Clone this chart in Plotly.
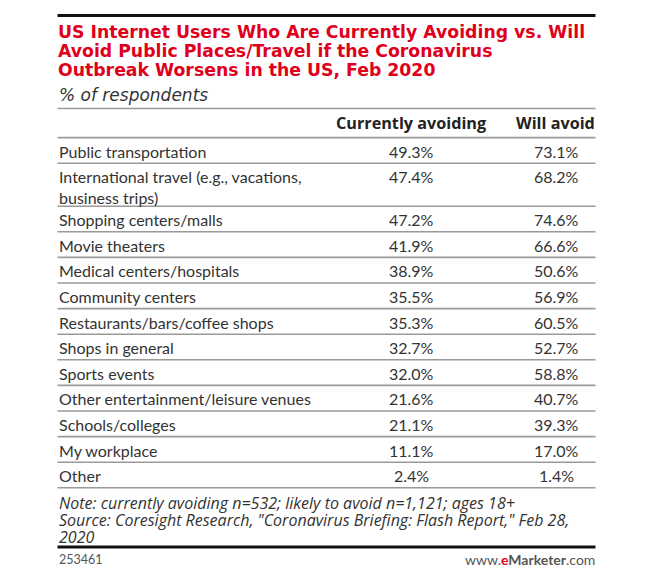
import plotly.graph_objects as go

# ---------------- data ----------------
title_lines = [
    "US Internet Users Who Are Currently Avoiding vs. Will",
    "Avoid Public Places/Travel if the Coronavirus",
    "Outbreak Worsens in the US, Feb 2020",
]
subtitle = "% of respondents"
column_headers = ["Currently avoiding", "Will avoid"]
categories = [
    "Public transportation",
    "International travel (e.g., vacations,<br>business trips)",
    "Shopping centers/malls",
    "Movie theaters",
    "Medical centers/hospitals",
    "Community centers",
    "Restaurants/bars/coffee shops",
    "Shops in general",
    "Sports events",
    "Other entertainment/leisure venues",
    "Schools/colleges",
    "My workplace",
    "Other",
]
currently_avoiding = [49.3, 47.4, 47.2, 41.9, 38.9, 35.5, 35.3, 32.7, 32.0, 21.6, 21.1, 11.1, 2.4]
will_avoid = [73.1, 68.2, 74.6, 66.6, 50.6, 56.9, 60.5, 52.7, 58.8, 40.7, 39.3, 17.0, 1.4]
note_lines = [
    "Note: currently avoiding n=532; likely to avoid n=1,121; ages 18+",
    "Source: Coresight Research, \"Coronavirus Briefing: Flash Report,\" Feb 28,",
    "2020",
]
chart_id = "253461"

# ---------------- layout constants ----------------
W, H = 652, 580
OFF = 8  # page body margin of the html page
LEFT, RIGHT = 57.5, 595.5
COL1_X, COL2_X = 411, 556
RED = "#e0001b"
TXT = "#333333"
BODY_FONT = "Lato"
HEAD_FONT = "Open Sans"
TITLE_FONT = "DejaVu Sans"
ROW_H = 25.6
EXTRA_LINE_H = 17.4
TABLE_TOP = 137.6
HEADER_TOP = 108.5

fig = go.Figure()
annotations = []
shapes = []


def ann(x, y, text, size, color=TXT, family=BODY_FONT, xanchor="left", yanchor="middle", align="left"):
    annotations.append(dict(
        x=x, y=y, xref="x", yref="y", text=text, showarrow=False,
        xanchor=xanchor, yanchor=yanchor, align=align,
        font=dict(size=size, color=color, family=family), borderpad=0,
    ))


def hline(y, width, color, x0=LEFT, x1=RIGHT):
    shapes.append(dict(type="line", xref="x", yref="y", x0=x0, x1=x1, y0=y, y1=y,
                       line=dict(color=color, width=width)))


# top rule
hline(15.5, 3, "#111111")
# title
for i, t in enumerate(title_lines):
    ann(LEFT - 0.5, 32 + i * 19, "<b>" + t + "</b>", 17.3, color=RED, family=TITLE_FONT)
ann(LEFT, 95, "<i>" + subtitle + "</i>", 17, color=TXT, family=TITLE_FONT)
hline(HEADER_TOP, 1.6, "#9a9a9a")

# header
ann(COL1_X, 123, "<b>" + column_headers[0] + "</b>", 16.2, color="#222222", family=HEAD_FONT, xanchor="center")
ann(RIGHT, 123, "<b>" + column_headers[1] + "</b>", 16.2, color="#222222", family=HEAD_FONT, xanchor="right")
hline(TABLE_TOP, 1.6, "#9a9a9a")

# rows
y = TABLE_TOP
for cat, c, w in zip(categories, currently_avoiding, will_avoid):
    n_lines = cat.count("<br>") + 1
    h = ROW_H + (n_lines - 1) * EXTRA_LINE_H
    first_line_y = y + 13.5
    if n_lines == 1:
        ann(LEFT, first_line_y, cat, 16)
    else:
        ann(LEFT, y + 3, cat, 16, yanchor="top")
    ann(COL1_X, first_line_y, f"{c:.1f}%", 16, xanchor="center")
    ann(COL2_X, first_line_y, f"{w:.1f}%", 16, xanchor="center")
    y += h
    hline(y, 1.6, "#9a9a9a")

# notes
for i, t in enumerate(note_lines):
    ann(LEFT, 502.5 + i * 17, "<i>" + t + "</i>", 16, color=TXT, family=HEAD_FONT)

hline(547, 3, "#111111")
ann(LEFT, 559.5, chart_id, 12.5, color="#555555")
ann(RIGHT, 559.5,
    "www.<span style='color:" + RED + "'><b>e</b></span><b>Marketer</b>.com",
    14, color="#555555", xanchor="right")

fig.update_layout(
    width=W - OFF, height=H - OFF,
    margin=dict(l=0, r=0, t=0, b=0),
    paper_bgcolor="white", plot_bgcolor="white",
    xaxis=dict(range=[OFF, W], visible=False, fixedrange=True),
    yaxis=dict(range=[H, OFF], visible=False, fixedrange=True),
    annotations=annotations, shapes=shapes,
    showlegend=False,
)
fig.write_html("out.html")
